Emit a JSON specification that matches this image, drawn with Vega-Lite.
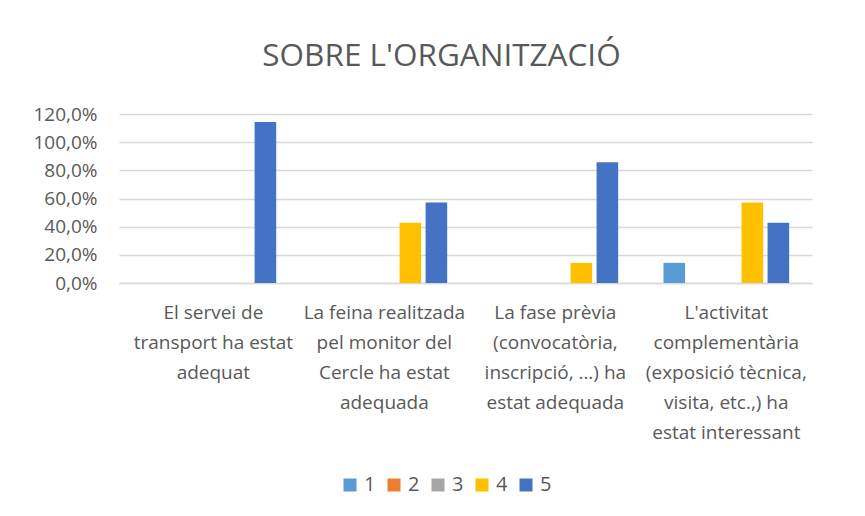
{
  "$schema": "https://vega.github.io/schema/vega-lite/v6.json",
  "width": 693,
  "height": 169,
  "autosize": {"type": "none"},
  "padding": {"left": 119, "top": 114, "right": 53, "bottom": 233},
  "background": "white",
  "config": {
    "locale": {"number": {"decimal": ",", "thousands": ".", "grouping": [3], "currency": ["", " €"]}},
    "view": {"stroke": null},
    "font": "Open Sans"
  },
  "title": {
    "text": "SOBRE L'ORGANITZACIÓ",
    "font": "Open Sans",
    "fontSize": 31.5,
    "fontWeight": "normal",
    "color": "#595959",
    "anchor": "middle",
    "baseline": "alphabetic",
    "dx": -24,
    "offset": 8
  },
  "data": {
    "values": [
      {"cat": "El servei de|transport ha estat|adequat", "serie": "1", "value": 0},
      {"cat": "El servei de|transport ha estat|adequat", "serie": "2", "value": 0},
      {"cat": "El servei de|transport ha estat|adequat", "serie": "3", "value": 0},
      {"cat": "El servei de|transport ha estat|adequat", "serie": "4", "value": 0},
      {"cat": "El servei de|transport ha estat|adequat", "serie": "5", "value": 1.1429},
      {"cat": "La feina realitzada|pel monitor del|Cercle ha estat|adequada", "serie": "1", "value": 0},
      {"cat": "La feina realitzada|pel monitor del|Cercle ha estat|adequada", "serie": "2", "value": 0},
      {"cat": "La feina realitzada|pel monitor del|Cercle ha estat|adequada", "serie": "3", "value": 0},
      {"cat": "La feina realitzada|pel monitor del|Cercle ha estat|adequada", "serie": "4", "value": 0.4286},
      {"cat": "La feina realitzada|pel monitor del|Cercle ha estat|adequada", "serie": "5", "value": 0.5714},
      {"cat": "La fase prèvia|(convocatòria,|inscripció, …) ha|estat adequada", "serie": "1", "value": 0},
      {"cat": "La fase prèvia|(convocatòria,|inscripció, …) ha|estat adequada", "serie": "2", "value": 0},
      {"cat": "La fase prèvia|(convocatòria,|inscripció, …) ha|estat adequada", "serie": "3", "value": 0},
      {"cat": "La fase prèvia|(convocatòria,|inscripció, …) ha|estat adequada", "serie": "4", "value": 0.1429},
      {"cat": "La fase prèvia|(convocatòria,|inscripció, …) ha|estat adequada", "serie": "5", "value": 0.8571},
      {"cat": "L'activitat|complementària|(exposició tècnica,|visita, etc.,) ha|estat interessant", "serie": "1", "value": 0.1429},
      {"cat": "L'activitat|complementària|(exposició tècnica,|visita, etc.,) ha|estat interessant", "serie": "2", "value": 0},
      {"cat": "L'activitat|complementària|(exposició tècnica,|visita, etc.,) ha|estat interessant", "serie": "3", "value": 0},
      {"cat": "L'activitat|complementària|(exposició tècnica,|visita, etc.,) ha|estat interessant", "serie": "4", "value": 0.5714},
      {"cat": "L'activitat|complementària|(exposició tècnica,|visita, etc.,) ha|estat interessant", "serie": "5", "value": 0.4286}
    ]
  },
  "mark": {"type": "bar"},
  "encoding": {
    "x": {
      "field": "cat",
      "type": "nominal",
      "sort": null,
      "scale": {"paddingInner": 0.265, "paddingOuter": 0.159, "align": 0.58},
      "axis": {
        "title": null,
        "labelExpr": "split(datum.value, '|')",
        "labelAngle": 0,
        "labelFont": "Open Sans",
        "labelFontSize": 19,
        "labelColor": "#595959",
        "labelLineHeight": 30,
        "labelBaseline": "top",
        "labelPadding": 20,
        "labelLimit": 0,
        "ticks": false,
        "domain": true,
        "domainColor": "#d9d9d9",
        "domainWidth": 1.3,
        "grid": false
      }
    },
    "xOffset": {
      "field": "serie",
      "type": "nominal",
      "scale": {"domain": ["1", "2", "3", "4", "5"], "paddingInner": 0.17, "paddingOuter": 0}
    },
    "y": {
      "field": "value",
      "type": "quantitative",
      "scale": {"domain": [0, 1.2], "nice": false, "zero": true},
      "axis": {
        "title": null,
        "format": ".1%",
        "values": [0, 0.2, 0.4, 0.6, 0.8, 1.0, 1.2],
        "labelFont": "Open Sans",
        "labelFontSize": 19,
        "labelColor": "#595959",
        "labelPadding": 22,
        "ticks": false,
        "domain": false,
        "grid": true,
        "gridColor": "#d9d9d9",
        "gridWidth": 1.3
      }
    },
    "color": {
      "field": "serie",
      "type": "nominal",
      "scale": {
        "domain": ["1", "2", "3", "4", "5"],
        "range": ["#5B9BD5", "#ED7D31", "#A5A5A5", "#FFC000", "#4472C4"]
      },
      "legend": {
        "title": null,
        "orient": "none",
        "legendX": 221,
        "legendY": 361,
        "direction": "horizontal",
        "columns": 5,
        "padding": 0,
        "symbolType": "square",
        "symbolSize": 169,
        "symbolStrokeWidth": 0,
        "labelFont": "Open Sans",
        "labelFontSize": 20,
        "labelColor": "#595959",
        "labelOffset": 4,
        "columnPadding": 8
      }
    }
  }
}
